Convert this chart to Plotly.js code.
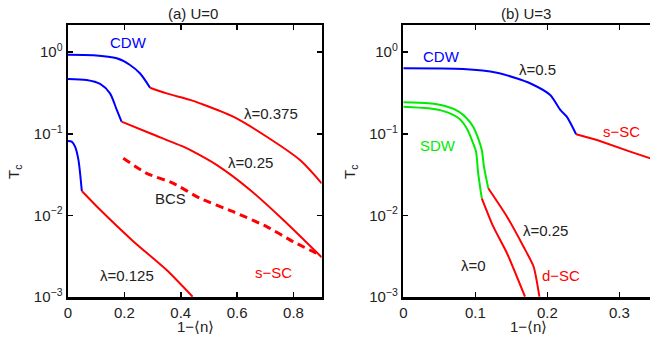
<!DOCTYPE html>
<html>
<head>
<meta charset="utf-8">
<script src="https://cdn.plot.ly/plotly-3.0.1.min.js"></script>
<style>html,body{margin:0;padding:0;background:#fff;}#chart{width:650px;height:339px;}</style>
</head>
<body>
<div id="chart"></div>
<script>
// ---------- Panel (a) U=0 ----------
const a375_cdw_x = [0, 0.09, 0.173, 0.22, 0.255, 0.291];
const a375_cdw_y = [0.931, 0.916, 0.841, 0.697, 0.551, 0.367];
const a375_sc_x = [0.291, 0.35, 0.433, 0.468, 0.586, 0.705, 0.823, 0.9];
const a375_sc_y = [0.367, 0.313, 0.26, 0.236, 0.162, 0.092, 0.0477, 0.0247];

const a25_cdw_x = [0, 0.066, 0.114, 0.149, 0.173, 0.19];
const a25_cdw_y = [0.47, 0.456, 0.408, 0.313, 0.196, 0.141];
const a25_sc_x = [0.19, 0.291, 0.409, 0.433, 0.527, 0.646, 0.764, 0.9];
const a25_sc_y = [0.141, 0.1014, 0.0695, 0.0633, 0.0415, 0.0205, 0.0088, 0.00307];

const a125_cdw_x = [0, 0.013, 0.025, 0.037, 0.049];
const a125_cdw_y = [0.0816, 0.08, 0.0695, 0.0478, 0.0199];
const a125_sc_x = [0.049, 0.114, 0.232, 0.35, 0.442];
const a125_sc_y = [0.0199, 0.0117, 0.0048, 0.00214, 0.00101];

const bcs_x = [0.196, 0.279, 0.374, 0.468, 0.586, 0.705, 0.799, 0.894];
const bcs_y = [0.0501, 0.0328, 0.0247, 0.0162, 0.0111, 0.00728, 0.00476, 0.00327];

// ---------- Panel (b) U=3 ----------
const b5_cdw_x = [0, 0.083, 0.13, 0.157, 0.176, 0.204, 0.218, 0.227, 0.24];
const b5_cdw_y = [0.635, 0.622, 0.561, 0.479, 0.416, 0.299, 0.196, 0.162, 0.0986];
const b5_sc_x = [0.24, 0.269, 0.315, 0.36];
const b5_sc_y = [0.0986, 0.0839, 0.0604, 0.0445];

const b25_sdw_x = [0, 0.035, 0.058, 0.077, 0.088, 0.097, 0.104, 0.109, 0.112, 0.118];
const b25_sdw_y = [0.243, 0.236, 0.219, 0.187, 0.155, 0.122, 0.088, 0.0633, 0.0395, 0.0215];
const b25_dsc_x = [0.118, 0.144, 0.167, 0.181, 0.189];
const b25_dsc_y = [0.0215, 0.00964, 0.00413, 0.00235, 0.00101];

const b0_sdw_x = [0, 0.035, 0.058, 0.077, 0.088, 0.097, 0.101, 0.104, 0.109];
const b0_sdw_y = [0.215, 0.205, 0.187, 0.155, 0.117, 0.0765, 0.0604, 0.0328, 0.0162];
const b0_dsc_x = [0.109, 0.125, 0.144, 0.169];
const b0_dsc_y = [0.0162, 0.00727, 0.00344, 0.00101];

const yTickVals = [1, 0.1, 0.01, 0.001];
const yTickText = ['10<sup>0</sup>', '10<sup>\u22121</sup>', '10<sup>\u22122</sup>', '10<sup>\u22123</sup>'];

const BLUE = 'rgb(0,0,255)', RED = 'rgb(255,0,0)', GREEN = 'rgb(0,235,0)';
const LW = 2;

function seg(x, y, color, xa, ya, opts) {
  opts = opts || {};
  return {x: x, y: y, type: 'scatter', mode: 'lines', xaxis: xa, yaxis: ya,
    line: {color: color, width: opts.w || LW, dash: opts.dash || 'solid',
      shape: opts.smooth ? 'spline' : 'linear', smoothing: opts.smooth || 0},
    hoverinfo: 'skip', showlegend: false};
}

const data = [
  seg(a375_cdw_x, a375_cdw_y, BLUE, 'x', 'y', {smooth: 0.8}),
  seg(a375_sc_x, a375_sc_y, RED, 'x', 'y', {smooth: 0.8}),
  seg(a25_cdw_x, a25_cdw_y, BLUE, 'x', 'y', {smooth: 0.8}),
  seg(a25_sc_x, a25_sc_y, RED, 'x', 'y', {smooth: 0.8}),
  seg(a125_cdw_x, a125_cdw_y, BLUE, 'x', 'y', {smooth: 0.7}),
  seg(a125_sc_x, a125_sc_y, RED, 'x', 'y', {smooth: 0.6}),
  seg(bcs_x, bcs_y, RED, 'x', 'y', {dash: '8px,5px', w: 3, smooth: 0.6}),
  seg(b5_cdw_x, b5_cdw_y, BLUE, 'x2', 'y2', {smooth: 0.7}),
  seg(b5_sc_x, b5_sc_y, RED, 'x2', 'y2'),
  seg(b25_sdw_x, b25_sdw_y, GREEN, 'x2', 'y2', {smooth: 0.8}),
  seg(b25_dsc_x, b25_dsc_y, RED, 'x2', 'y2', {smooth: 0.6}),
  seg(b0_sdw_x, b0_sdw_y, GREEN, 'x2', 'y2', {smooth: 0.8}),
  seg(b0_dsc_x, b0_dsc_y, RED, 'x2', 'y2', {smooth: 0.6})
];

const FONT = 'Liberation Sans, Arial, Helvetica, sans-serif';
const TXT = '#222';
const axisCommon = {
  showline: true, linecolor: 'black', linewidth: 2.5,
  ticks: 'inside', ticklen: 5, tickwidth: 1.5, tickcolor: 'black',
  showgrid: false, zeroline: false,
  tickfont: {family: FONT, size: 15, color: TXT}
};
const W = 650, TOP = 25, BOT = 297;

function lab(text, x, y, color, xr, yr) {
  return {text: text, x: x, y: Math.log10(y), xref: xr, yref: yr, showarrow: false,
    font: {family: FONT, size: 15, color: color}, xanchor: 'center', yanchor: 'middle'};
}
function plab(text, xpx, ypx, angle) {
  return {text: text, x: xpx / W, y: (BOT - ypx) / (BOT - TOP), xref: 'paper', yref: 'paper',
    showarrow: false, font: {family: FONT, size: 15, color: TXT},
    xanchor: 'center', yanchor: 'middle', textangle: angle || 0};
}

const layout = {
  width: 650, height: 339,
  margin: {l: 0, r: 0, t: TOP, b: 339 - BOT},
  paper_bgcolor: 'white', plot_bgcolor: 'white',
  showlegend: false,
  xaxis: Object.assign({}, axisCommon, {domain: [68 / W, 321.7 / W], range: [0, 0.9],
    tickvals: [0, 0.2, 0.4, 0.6, 0.8], ticktext: ['0', '0.2', '0.4', '0.6', '0.8'],
    mirror: 'ticks', anchor: 'y'}),
  yaxis: Object.assign({}, axisCommon, {type: 'log', range: [-3, 0.333],
    tickvals: yTickVals, ticktext: yTickText, mirror: 'ticks', anchor: 'x'}),
  xaxis2: Object.assign({}, axisCommon, {domain: [403.3 / W, 1], range: [0, 0.3426],
    tickvals: [0, 0.1, 0.2, 0.3], ticktext: ['0', '0.1', '0.2', '0.3'],
    mirror: 'ticks', anchor: 'y2'}),
  yaxis2: Object.assign({}, axisCommon, {type: 'log', range: [-3, 0.333],
    tickvals: yTickVals, ticktext: yTickText, mirror: false, anchor: 'x2'}),
  annotations: [
    plab('(a) U=0', 193, 14),
    plab('(b) U=3', 526, 14),
    plab('1\u2212\u27E8n\u27E9', 195, 326),
    plab('1\u2212\u27E8n\u27E9', 528, 326),
    plab('T<sub>c</sub>', 14, 172, -90),
    plab('T<sub>c</sub>', 350, 172, -90),
    lab('CDW', 0.213, 1.30, BLUE, 'x', 'y'),
    lab('\u03BB=0.375', 0.72, 0.179, TXT, 'x', 'y'),
    lab('\u03BB=0.25', 0.649, 0.0439, TXT, 'x', 'y'),
    lab('BCS', 0.362, 0.0159, TXT, 'x', 'y'),
    lab('s\u2212SC', 0.729, 0.00202, RED, 'x', 'y'),
    lab('\u03BB=0.125', 0.211, 0.00183, TXT, 'x', 'y'),
    lab('CDW', 0.053, 0.873, BLUE, 'x2', 'y2'),
    lab('\u03BB=0.5', 0.186, 0.605, TXT, 'x2', 'y2'),
    lab('s\u2212SC', 0.303, 0.107, RED, 'x2', 'y2'),
    lab('SDW', 0.0475, 0.071, GREEN, 'x2', 'y2'),
    lab('\u03BB=0.25', 0.198, 0.00644, TXT, 'x2', 'y2'),
    lab('\u03BB=0', 0.097, 0.0024, TXT, 'x2', 'y2'),
    lab('d\u2212SC', 0.219, 0.00186, RED, 'x2', 'y2')
  ]
};

Plotly.newPlot('chart', data, layout, {staticPlot: true, displayModeBar: false});
</script>
</body>
</html>
